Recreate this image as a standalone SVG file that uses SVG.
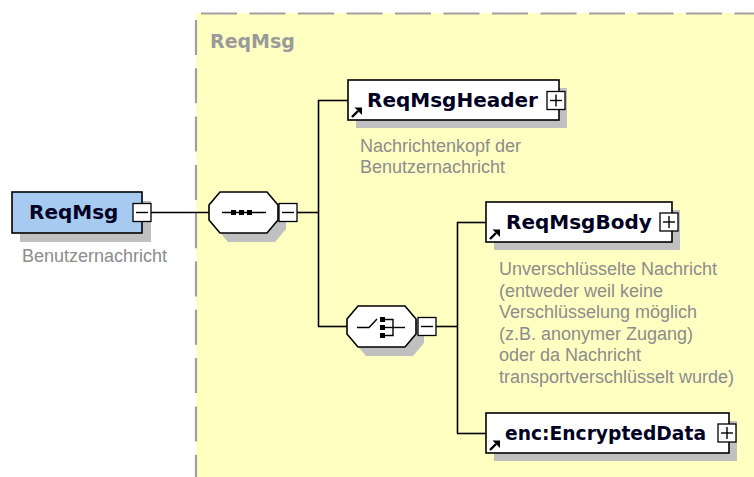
<svg xmlns="http://www.w3.org/2000/svg" width="754" height="477" viewBox="0 0 754 477">
<defs>
<style>
.box{stroke:#000;stroke-width:1.6}
.shadow{fill:#c0c0c0}
.name{font-family:"DejaVu Sans",Verdana,sans-serif;font-weight:bold;font-size:20px;fill:#000022}
.desc{font-family:"Liberation Sans",Arial,sans-serif;font-size:18px;fill:#8c8c8c}
.title{font-family:"DejaVu Sans",Verdana,sans-serif;font-weight:bold;font-size:19px;fill:#9a9a9a}
.conn{stroke:#000;stroke-width:1.6;fill:none}
.btn{fill:#fff;stroke:#000;stroke-width:1.3}
.sign{stroke:#000;stroke-width:1.4}
.dash{stroke:#a0a0a0;stroke-width:2.2;fill:none}
</style>
<g id="ref">
<line x1="4" y1="-3" x2="10" y2="-9" stroke="#000" stroke-width="2.4"/>
<polygon points="6.5,-12.5 14,-12.5 14,-5" fill="#000"/>
</g>
<g id="plus">
<rect class="btn" x="0" y="0" width="18" height="18"/>
<line class="sign" x1="3" y1="9" x2="15" y2="9"/>
<line class="sign" x1="9" y1="3" x2="9" y2="15"/>
</g>
<g id="minus">
<rect class="btn" x="0" y="0" width="18" height="18"/>
<line class="sign" x1="3" y1="9" x2="15" y2="9"/>
</g>
</defs>
<rect x="0" y="0" width="754" height="477" fill="#fff"/>
<g id="group-ReqMsg">
<rect x="196" y="13" width="560" height="466" fill="#ffffc2"/>
<line class="dash" x1="201" y1="13.5" x2="754" y2="13.5" stroke-dasharray="36 12.5"/>
<line class="dash" x1="196" y1="20" x2="196" y2="477" stroke-dasharray="35 13.3"/>
<text class="title" x="210" y="48">ReqMsg</text>
</g>
<g id="connectors">
<line class="conn" x1="151" y1="212.5" x2="209" y2="212.5"/>
<line class="conn" x1="297" y1="212.5" x2="318.5" y2="212.5"/>
<line class="conn" x1="318.5" y1="100" x2="318.5" y2="326.5"/>
<line class="conn" x1="318" y1="100.5" x2="348" y2="100.5"/>
<line class="conn" x1="318" y1="326.5" x2="347" y2="326.5"/>
<line class="conn" x1="436" y1="326.5" x2="457.5" y2="326.5"/>
<line class="conn" x1="457.5" y1="222" x2="457.5" y2="433.5"/>
<line class="conn" x1="457" y1="222.5" x2="486" y2="222.5"/>
<line class="conn" x1="457" y1="433.5" x2="486" y2="433.5"/>
</g>
<g id="node-ReqMsg">
<rect class="shadow" x="20" y="201" width="131" height="41"/>
<rect class="box" x="12" y="192" width="130" height="41" fill="#a6caf0"/>
<text class="name" x="29" y="219">ReqMsg</text>
<use href="#minus" x="133" y="203.5"/>
<text class="desc" x="22" y="262">Benutzernachricht</text>
</g>
<g id="node-sequence">
<polygon class="shadow" points="217,214 228,201 275,201 286,214 286,229 275,242 228,242 217,229"/>
<polygon class="box" fill="#fff" points="209,205 220,192 267,192 278,205 278,220 267,233 220,233 209,220"/>
<line class="sign" x1="222" y1="212.5" x2="266" y2="212.5"/>
<rect x="231" y="210" width="5" height="5"/>
<rect x="239" y="210" width="5" height="5"/>
<rect x="247" y="210" width="5" height="5"/>
<use href="#minus" x="279" y="203.5"/>
</g>
<g id="node-ReqMsgHeader">
<rect class="shadow" x="356" y="88" width="211" height="40"/>
<rect class="box" x="348" y="80" width="211" height="40" fill="#fff"/>
<use href="#ref" x="348" y="120"/>
<text class="name" x="367" y="107">ReqMsgHeader</text>
<use href="#plus" x="547" y="91.5"/>
<text class="desc" x="360" y="152">Nachrichtenkopf der</text>
<text class="desc" x="360" y="173">Benutzernachricht</text>
</g>
<g id="node-choice">
<polygon class="shadow" points="355,328 366,315 413,315 424,328 424,343 413,356 366,356 355,343"/>
<polygon class="box" fill="#fff" points="347,319 358,306 405,306 416,319 416,334 405,347 358,347 347,334"/>
<polyline class="sign" fill="none" points="357,327.5 369,327.5 377,319"/>
<rect x="380" y="317" width="5" height="5"/>
<rect x="380" y="325" width="5" height="5"/>
<rect x="380" y="333" width="5" height="5"/>
<polyline class="sign" fill="none" points="385,319.5 393,319.5 393,335.5 385,335.5"/>
<line class="sign" x1="385" y1="327.5" x2="405" y2="327.5"/>
<use href="#minus" x="418" y="317.5"/>
</g>
<g id="node-ReqMsgBody">
<rect class="shadow" x="494" y="210" width="186" height="40"/>
<rect class="box" x="486" y="202" width="186" height="40" fill="#fff"/>
<use href="#ref" x="486" y="242"/>
<text class="name" x="506" y="229">ReqMsgBody</text>
<use href="#plus" x="660" y="213"/>
<text class="desc" x="499" y="275">Unverschlüsselte Nachricht</text>
<text class="desc" x="499" y="296.5">(entweder weil keine</text>
<text class="desc" x="499" y="318">Verschlüsselung möglich</text>
<text class="desc" x="499" y="339.5">(z.B. anonymer Zugang)</text>
<text class="desc" x="499" y="361">oder da Nachricht</text>
<text class="desc" x="499" y="382.5">transportverschlüsselt wurde)</text>
</g>
<g id="node-EncryptedData">
<rect class="shadow" x="494" y="421" width="243" height="40"/>
<rect class="box" x="486" y="413" width="243" height="40" fill="#fff"/>
<use href="#ref" x="486" y="453"/>
<text class="name" x="505" y="440" textLength="201" lengthAdjust="spacingAndGlyphs">enc:EncryptedData</text>
<use href="#plus" x="718" y="424"/>
</g>
</svg>
